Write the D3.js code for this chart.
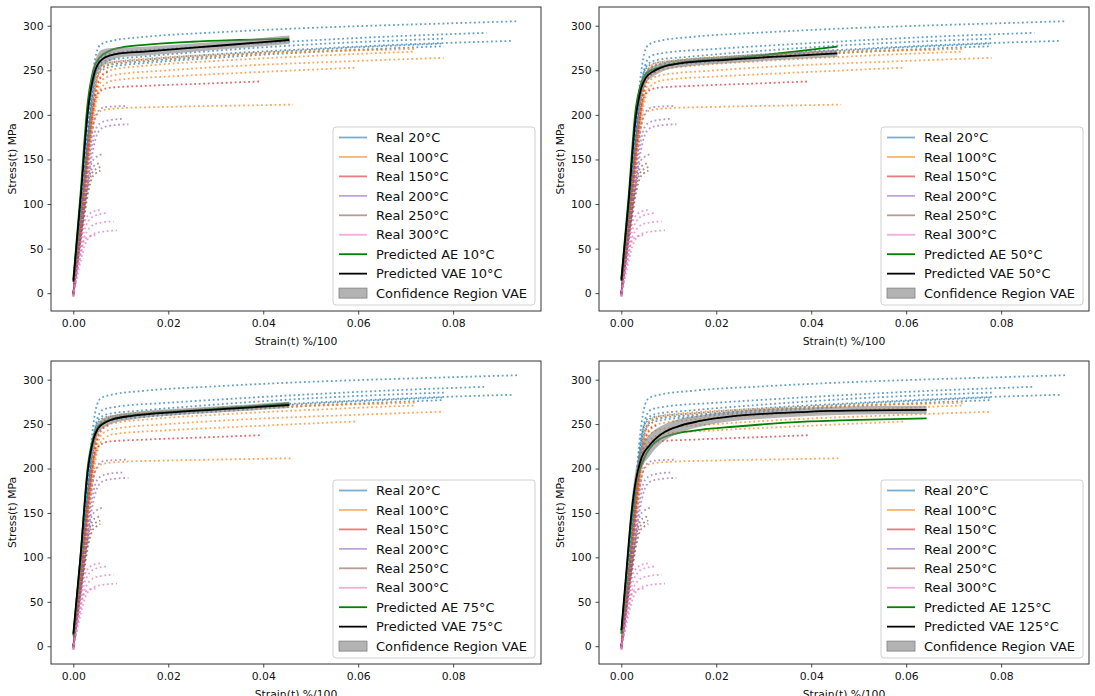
<!DOCTYPE html>
<html><head><meta charset="utf-8">
<script src="https://cdn.jsdelivr.net/npm/d3@7"></script>
<style>body{margin:0;background:#fff} svg{display:block} text{font-family:"DejaVu Sans",sans-serif;fill:#111}</style>
</head><body><svg id="c" width="1095" height="696"></svg>
<script>
// ---------- data ----------
const realTemps = ["20", "100", "150", "200", "250", "300"];
const realColors = ["#1f77b4", "#ff7f0e", "#d62728", "#9467bd", "#8c564b", "#e377c2"];
const xTickValues = [0, 0.02, 0.04, 0.06, 0.08];
const yTickValues = [0, 50, 100, 150, 200, 250, 300];
const predTemps = ["10", "50", "75", "125"];

const real20 = [
  [[0,0],[0.0015,85],[0.003,180],[0.004,240],[0.0048,268],[0.0058,279],[0.008,283],[0.015,287.5],[0.03,292.5],[0.045,296.5],[0.06,299.5],[0.075,302],[0.0935,305]],
  [[0,-1],[0.0015,80],[0.003,170],[0.004,225],[0.005,255],[0.0062,266],[0.009,269.5],[0.02,274],[0.035,279],[0.05,283.5],[0.065,287.5],[0.087,292]],
  [[0,1],[0.0015,85],[0.003,175],[0.0042,235],[0.0052,252],[0.007,258],[0.015,262],[0.03,268],[0.05,274],[0.07,279],[0.0924,283]],
  [[0,-2],[0.0016,80],[0.0032,180],[0.0045,240],[0.0055,256],[0.007,261],[0.015,265.5],[0.03,272],[0.05,279],[0.078,285.5]],
  [[0,0],[0.0017,85],[0.0033,180],[0.0045,232],[0.0056,250],[0.0075,256],[0.015,260],[0.03,266],[0.05,273],[0.078,280]],
  [[0,2],[0.0016,88],[0.0034,185],[0.0047,235],[0.0058,249],[0.008,254],[0.015,258],[0.03,264],[0.05,270.5],[0.078,277]]
];
const real100 = [
  [[0,-1],[0.0017,80],[0.0035,180],[0.0048,235],[0.006,252],[0.008,257],[0.015,261],[0.03,266],[0.05,270.5],[0.0723,274]],
  [[0,1],[0.0018,85],[0.0036,180],[0.005,232],[0.0062,246],[0.0085,251],[0.015,255],[0.03,260.5],[0.05,266],[0.072,271]],
  [[0,0],[0.0018,82],[0.0037,178],[0.005,225],[0.0063,240],[0.009,245],[0.02,250],[0.035,255],[0.055,259.5],[0.078,264]],
  [[0,-2],[0.0019,80],[0.0038,175],[0.005,218],[0.0065,234],[0.009,239],[0.02,243],[0.035,247],[0.0597,253]],
  [[0,0],[0.0018,80],[0.0033,160],[0.0045,195],[0.006,205],[0.01,207.5],[0.02,209],[0.035,210.5],[0.0463,211.5]],
  [[0,1],[0.0017,84],[0.0035,182],[0.0048,236],[0.006,254],[0.008,259],[0.015,263],[0.03,267.5],[0.05,271.5],[0.066,273.5]]
];
const real150 = [
  [[0,-2],[0.0018,82],[0.0035,175],[0.0045,215],[0.0055,226],[0.0078,230.5],[0.015,232.5],[0.03,235.5],[0.0394,237.5]],
  [[0,0],[0.0018,85],[0.0035,180],[0.0048,228],[0.0058,242],[0.0068,247],[0.0075,248.5]]
];
const real200 = [
  [[0,-1],[0.0017,75],[0.0033,150],[0.0043,190],[0.0052,204],[0.0065,208.5],[0.009,209.5],[0.0113,210]],
  [[0,0],[0.0018,75],[0.0035,150],[0.0045,180],[0.0055,190],[0.0075,194],[0.0103,195.5]],
  [[0,1],[0.0019,75],[0.0037,148],[0.0048,175],[0.006,185],[0.008,188],[0.0116,189.5]],
  [[0,-1],[0.0018,72],[0.0032,130],[0.0038,145],[0.0047,152],[0.0062,156]]
];
const real250 = [
  [[0,-2],[0.0017,70],[0.003,120],[0.0037,137],[0.0046,144],[0.0057,146]],
  [[0,0],[0.0018,70],[0.0031,118],[0.0038,133],[0.0047,139],[0.0057,141.5]],
  [[0,1],[0.0019,70],[0.0032,115],[0.004,130],[0.0049,135],[0.0057,137.5]]
];
const real300 = [
  [[0,-4],[0.0012,45],[0.002,72],[0.0028,85],[0.004,91],[0.0058,93.5]],
  [[0,-3],[0.0013,42],[0.0022,68],[0.0032,81],[0.0048,87.5],[0.0074,90]],
  [[0,-2],[0.0014,40],[0.0023,62],[0.0034,73],[0.0052,78.5],[0.0085,80.5]],
  [[0,-4],[0.0015,35],[0.0025,55],[0.0036,64],[0.0055,68.5],[0.0092,70.5]],
  [[0,-3],[0.0012,35],[0.002,55],[0.003,63],[0.0047,65]]
];
const realSeries = [real20, real100, real150, real200, real250, real300];

// predicted curves: [strain, stress]; bands: [strain, lower, upper]
const ae10 = [[0,15],[0.0015,110],[0.003,212],[0.0042,250],[0.0055,264],[0.0075,271.5],[0.01,275.5],[0.015,278.5],[0.025,282],[0.035,284],[0.0455,285.5]];
const vae10 = [[0,13],[0.0015,104],[0.0032,210],[0.0045,248],[0.006,262],[0.008,267],[0.0095,268.8],[0.015,271],[0.0267,276],[0.035,279.5],[0.0455,284]];
const band10 = [[0,9,17],[0.0015,96,112],[0.0032,200,220],[0.0045,238,259],[0.006,254,273],[0.008,261,275],[0.0095,264,275.5],[0.015,266.5,276.5],[0.0267,271.5,280.5],[0.035,275,284],[0.0455,279.5,289]];

const ae50 = [[0,16],[0.0015,106],[0.003,205],[0.0042,236],[0.0052,246],[0.0068,251],[0.0084,254],[0.012,258],[0.0227,263],[0.035,270],[0.0455,276.5]];
const vae50 = [[0,14],[0.0015,100],[0.003,195],[0.0042,230],[0.0052,242],[0.0068,249],[0.0084,253],[0.012,257.5],[0.0227,262],[0.035,266],[0.0455,269]];
const band50 = [[0,10,18],[0.0015,94,106],[0.003,187,203],[0.0042,222,238],[0.0052,235,249],[0.0068,243,255],[0.0084,248,258],[0.012,253,262],[0.0227,258,266],[0.035,262,270],[0.0455,265,273]];

const ae75 = [[0,12],[0.0015,100],[0.003,200],[0.0042,235],[0.0052,247],[0.0068,253],[0.0084,256],[0.012,259.5],[0.0227,264.5],[0.035,269],[0.0455,273.5]];
const vae75 = [[0,14],[0.0015,100],[0.003,195],[0.0042,232],[0.0052,245],[0.0068,252],[0.0084,255.5],[0.012,259],[0.0227,264],[0.035,268],[0.0455,271.5]];
const band75 = [[0,10,18],[0.0015,94,106],[0.003,188,202],[0.0042,225,239],[0.0052,239,251],[0.0068,247,257],[0.0084,251,260],[0.012,255,263],[0.0227,260.5,267.5],[0.035,264.5,271.5],[0.0455,268,275]];

const ae125 = [[0,14],[0.001,75],[0.0021,140],[0.003,180],[0.0047,210],[0.0075,231],[0.0117,239.5],[0.0166,243.5],[0.0236,247],[0.0377,252.5],[0.05,254.8],[0.0643,256.5]];
const vae125 = [[0,18],[0.001,80],[0.0021,148],[0.003,185],[0.004,208],[0.0061,227],[0.0085,239],[0.012,247.5],[0.0166,253.5],[0.0236,259],[0.0298,261.5],[0.0377,263.5],[0.044,264.8],[0.0643,266]];
const band125 = [[0,12,24],[0.001,72,88],[0.0021,136,160],[0.003,172,198],[0.004,195,221],[0.0061,215,239],[0.0085,229,248],[0.012,239.5,255.5],[0.0166,247,260],[0.0236,253.5,264.5],[0.0298,256,267],[0.0377,258.5,268.5],[0.044,260,269.5],[0.0643,261.5,270.5]];

const aeSeries = [ae10, ae50, ae75, ae125];
const vaeSeries = [vae10, vae50, vae75, vae125];
const bandSeries = [band10, band50, band75, band125];

// ---------- layout ----------
const svg = d3.select("#c");
const panelBoxes = [
  {x: 51, y: 7, w: 490, h: 304},
  {x: 599, y: 7, w: 490, h: 304},
  {x: 51, y: 361, w: 490, h: 303},
  {x: 599, y: 361, w: 490, h: 303}
];

panelBoxes.forEach((b, pi) => {
  const x = d3.scaleLinear().domain([-0.0047, 0.0985]).range([b.x, b.x + b.w]);
  const y = d3.scaleLinear().domain([-20, 321]).range([b.y + b.h, b.y]);
  const g = svg.append("g");
  const clipId = "clip" + pi;
  g.append("clipPath").attr("id", clipId).append("rect")
    .attr("x", b.x).attr("y", b.y).attr("width", b.w).attr("height", b.h);
  const plot = g.append("g").attr("clip-path", `url(#${clipId})`);
  const line = d3.line().x(d => x(d[0])).y(d => y(d[1])).curve(d3.curveMonotoneX);

  realSeries.forEach((curves, ti) => {
    curves.forEach(c => {
      plot.append("path").attr("d", line(c)).attr("fill", "none")
        .attr("stroke", realColors[ti]).attr("stroke-opacity", 0.7)
        .attr("stroke-width", 1.8).attr("stroke-dasharray", "1.8,2.7");
    });
  });

  const area = d3.area().x(d => x(d[0])).y0(d => y(d[1])).y1(d => y(d[2])).curve(d3.curveMonotoneX);
  plot.append("path").attr("d", line(aeSeries[pi])).attr("fill", "none").attr("stroke", "#008000").attr("stroke-width", 1.8);
  plot.append("path").attr("d", area(bandSeries[pi])).attr("fill", "#808080").attr("fill-opacity", 0.6);
  plot.append("path").attr("d", line(vaeSeries[pi])).attr("fill", "none").attr("stroke", "#000").attr("stroke-width", 1.8);

  // axes
  const xAxis = d3.axisBottom(x).tickValues(xTickValues).tickFormat(d3.format(".2f")).tickSize(3.5).tickPadding(5);
  const yAxis = d3.axisLeft(y).tickValues(yTickValues).tickFormat(d3.format("d")).tickSize(3.5).tickPadding(4);
  const gx = g.append("g").attr("transform", `translate(0,${b.y + b.h})`).call(xAxis);
  const gy = g.append("g").attr("transform", `translate(${b.x},0)`).call(yAxis);
  [gx, gy].forEach(a => {
    a.select(".domain").remove();
    a.selectAll("line").attr("stroke", "#333").attr("stroke-width", 0.9);
    a.selectAll("text").attr("font-size", 10.8).attr("font-family", "DejaVu Sans").attr("fill", "#111");
  });
  g.append("rect").attr("x", b.x).attr("y", b.y).attr("width", b.w).attr("height", b.h)
    .attr("fill", "none").attr("stroke", "#333").attr("stroke-width", 1);

  g.append("text").attr("x", b.x + b.w / 2).attr("y", b.y + b.h + 34)
    .attr("text-anchor", "middle").attr("font-size", 10.8).text("Strain(t) %/100");
  g.append("text").attr("transform", `translate(${b.x - 35.5},${b.y + b.h / 2}) rotate(-90)`)
    .attr("text-anchor", "middle").attr("font-size", 10.8).text("Stress(t) MPa");

  // legend
  const lx = b.x + b.w - 208, ly = b.y + b.h - 184;
  const lg = g.append("g");
  lg.append("rect").attr("x", lx).attr("y", ly).attr("width", 202).attr("height", 178)
    .attr("rx", 3).attr("fill", "#fff").attr("fill-opacity", 0.8).attr("stroke", "#d0d0d0").attr("stroke-width", 1);
  const entries = realTemps.map((t, i) => ({label: `Real ${t}°C`, color: realColors[i], op: 0.6, type: "line"}))
    .concat([
      {label: `Predicted AE ${predTemps[pi]}°C`, color: "#008000", op: 1, type: "line"},
      {label: `Predicted VAE ${predTemps[pi]}°C`, color: "#000", op: 1, type: "line"},
      {label: "Confidence Region VAE", color: "#808080", op: 0.6, type: "patch"}
    ]);
  entries.forEach((e, i) => {
    const cy = ly + 10.5 + i * 19.45;
    if (e.type === "line") {
      lg.append("line").attr("x1", lx + 6).attr("x2", lx + 34).attr("y1", cy).attr("y2", cy)
        .attr("stroke", e.color).attr("stroke-opacity", e.op).attr("stroke-width", 1.8);
    } else {
      lg.append("rect").attr("x", lx + 6).attr("y", cy - 5).attr("width", 28).attr("height", 10)
        .attr("fill", e.color).attr("fill-opacity", e.op).attr("stroke", "#808080").attr("stroke-width", 0.8);
    }
    lg.append("text").attr("x", lx + 43).attr("y", cy + 4.7).attr("font-size", 13).text(e.label);
  });
});
</script></body></html>
